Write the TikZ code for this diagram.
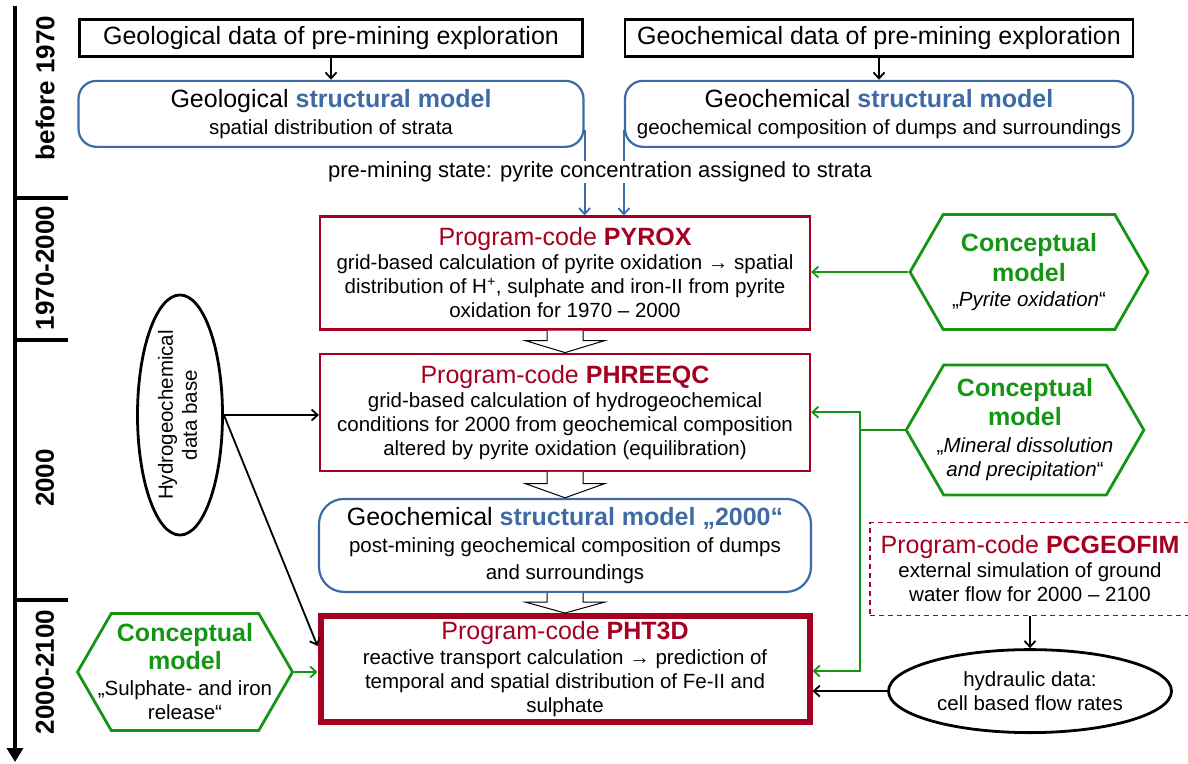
\documentclass[tikz,border=0pt]{standalone}
\usepackage{fontspec}
\setmainfont{Liberation Sans}
\usetikzlibrary{positioning,calc,shapes.geometric,shapes.symbols,arrows.meta}

\definecolor{codered}{RGB}{165,0,33}
\definecolor{modelblue}{RGB}{62,106,165}
\definecolor{conceptgreen}{RGB}{20,150,20}

\newcommand{\codetitle}[1]{{\fontsize{25}{28}\selectfont\color{codered}Program-code \textbf{#1}}}
\newcommand{\modeltitle}[2]{{\fontsize{25}{28}\selectfont #1 \textcolor{modelblue}{\textbf{#2}}}}
\newcommand{\cmline}[1]{{\fontsize{25}{30}\selectfont\bfseries\color{conceptgreen}#1}}
\newcommand{\hollowarrow}[2]{%
  \draw[hollow] ($(#1.south)+(-18,0)$) -- ($(#1.south)!.45!(#2.north)+(-18,0)$) -- ++(-22,0)
    -- (#1.south |- #2.north) -- ($(#1.south)!.45!(#2.north)+(40,0)$) -- ++(-22,0)
    -- ($(#1.south)+(18,0)$);}

\begin{document}
\begin{tikzpicture}[x=1pt, y=-1pt, node distance=22pt, >={Straight Barb[length=6pt,width=11pt]}]
    \tikzstyle{databox} = [draw, line width=2.5pt, minimum width=503pt, minimum height=37pt, inner sep=0pt, font=\fontsize{25}{28}\selectfont]
    \tikzstyle{modelbox} = [draw=modelblue, line width=2.2pt, rounded corners=18pt, minimum height=66pt, align=center, inner sep=0pt, font=\fontsize{20.5}{27}\selectfont]
    \tikzstyle{codebox} = [draw=codered, line width=2.2pt, minimum width=490pt, align=center, inner sep=0pt, font=\fontsize{20.5}{24}\selectfont]
    \tikzstyle{concept} = [signal, signal to=west and east, signal pointer angle=120, draw=conceptgreen, line width=2.8pt, align=center, inner sep=0pt, font=\fontsize{20.5}{24}\selectfont]
    \tikzstyle{database} = [ellipse, draw, line width=2.8pt, align=center, inner sep=0pt, font=\fontsize{20.5}{24}\selectfont]
    \tikzstyle{flow} = [->, line width=1.8pt]
    \tikzstyle{blueflow} = [flow, draw=modelblue]
    \tikzstyle{greenflow} = [flow, draw=conceptgreen]
    \tikzstyle{hollow} = [draw, line width=1pt, fill=white]
    \tikzstyle{period} = [rotate=90, inner sep=0pt, font=\fontsize{26}{30}\selectfont\bfseries]

    \useasboundingbox (0,0) rectangle (1188,763);

    % time axis
    \coordinate (ttop) at (15,6);
    \coordinate (tbot) at (15,762);
    \draw[line width=4pt, -{Triangle[length=14pt,width=16pt]}] (ttop) -- (tbot);
    \foreach \y in {198,340,600}
        \draw[line width=4pt] (15,\y) -- (68,\y);
    \node [period] (before) at (45,88) {before 1970};
    \node [period] (early) at (45,268) {1970-2000};
    \node [period] (mid) at (45,478) {2000};
    \node [period] (late) at (45,672) {2000-2100};

    % pre-mining data and structural models
    \node [databox] (geodata) at (331,38) {Geological data of pre-mining exploration};
    \node [databox, minimum width=508pt] (chemdata) at (879,38) {Geochemical data of pre-mining exploration};
    \node [modelbox, minimum width=505pt, below=of geodata] (geomodel) {\modeltitle{Geological}{structural model}\\spatial distribution of strata};
    \node [modelbox, minimum width=508pt, below=of chemdata] (chemmodel) {\modeltitle{Geochemical}{structural model}\\geochemical composition of dumps and surroundings};

    % program codes
    \node [codebox, minimum height=113pt] (pyrox) at (565,273) {\codetitle{PYROX}\\grid-based calculation of pyrite oxidation → spatial\\distribution of H\textsuperscript{+}, sulphate and iron-II from pyrite\\oxidation for 1970 – 2000};
    \node [codebox, minimum height=117pt, below=of pyrox] (phreeqc) {\codetitle{PHREEQC}\\grid-based calculation of hydrogeochemical\\conditions for 2000 from geochemical composition\\altered by pyrite oxidation (equilibration)};
    \node [modelbox, minimum width=492pt, minimum height=93pt, rounded corners=25pt, below=26pt of phreeqc] (model2000) {\modeltitle{Geochemical}{structural model „2000“}\\post-mining geochemical composition of dumps\\and surroundings};
    \node [codebox, line width=6pt, minimum width=489pt, minimum height=106pt, below=20pt of model2000] (pht3d) {\codetitle{PHT3D}\\[1pt]reactive transport calculation → prediction of\\temporal and spatial distribution of Fe-II and\\sulphate};

    % conceptual models
    \node [concept, minimum width=238pt, minimum height=115pt] (pyritecm) at (1029,272) {\cmline{Conceptual}\\[6pt]\cmline{model}\\[1pt]„\textit{Pyrite oxidation}“};
    \node [concept, inner xsep=-7pt, minimum width=237pt, minimum height=130pt] (mineralcm) at (1025,430) {\cmline{Conceptual}\\[5pt]\cmline{model}\\[3pt]„\textit{Mineral dissolution}\\\textit{and precipitation}“};
    \node [concept, inner xsep=-15pt, minimum width=215pt, minimum height=117pt] (releasecm) at (185,672) {\cmline{Conceptual}\\[4pt]\cmline{model}\\[2pt]„Sulphate- and iron\\release“};

    % data bases
    \node [database, minimum width=85pt, minimum height=224pt] (hydrodb) at (180,415) {\rotatebox{90}{\begin{tabular}{@{}c@{}}Hydrogeochemical\\data base\end{tabular}}};
    \node [draw=codered, line width=1.4pt, dash pattern=on 5pt off 4pt, minimum width=320pt, minimum height=93pt, align=center, inner sep=0pt, font=\fontsize{20.5}{24}\selectfont] (pcgeofim) at (1030,569) {\codetitle{PCGEOFIM}\\external simulation of ground\\water flow for 2000 – 2100};
    \node [database, minimum width=283pt, minimum height=83pt, below=32pt of pcgeofim] (hydraulic) {hydraulic data:\\cell based flow rates};

    % connectors
    \draw [flow] (geodata) -- (geomodel);
    \draw [flow] (chemdata) -- (chemmodel);
    \draw [blueflow] ([yshift=18pt]geomodel.south east) -- (pyrox.north -| geomodel.east);
    \draw [blueflow] ([yshift=18pt]chemmodel.south west) -- (pyrox.north -| chemmodel.west);
    \node [fill=white, inner sep=1pt, font=\fontsize{22}{26}\selectfont] (premining) at (600,172) {pre-mining state: pyrite concentration assigned to strata};

    \hollowarrow{pyrox}{phreeqc}
    \hollowarrow{phreeqc}{model2000}
    \hollowarrow{model2000}{pht3d}

    \coordinate (gsplit) at (860,430);
    \draw [greenflow] (pyritecm.west) -- (pyritecm.west -| pyrox.east);
    \draw [greenflow] (mineralcm.west) -- (gsplit) |- (phreeqc.east);
    \draw [greenflow] (gsplit) |- ([yshift=-2pt]pht3d.east);
    \draw [greenflow] (releasecm.east) -- (releasecm.east -| pht3d.west);

    \draw [flow] (hydrodb.east) -- (hydrodb.east -| phreeqc.west);
    \draw [flow] (hydrodb.east) -- ([yshift=-33pt]pht3d.north west);
    \draw [flow] (pcgeofim) -- (hydraulic);
    \draw [flow] (hydraulic.west) -- (hydraulic.west -| pht3d.east);
\end{tikzpicture}
\end{document}
